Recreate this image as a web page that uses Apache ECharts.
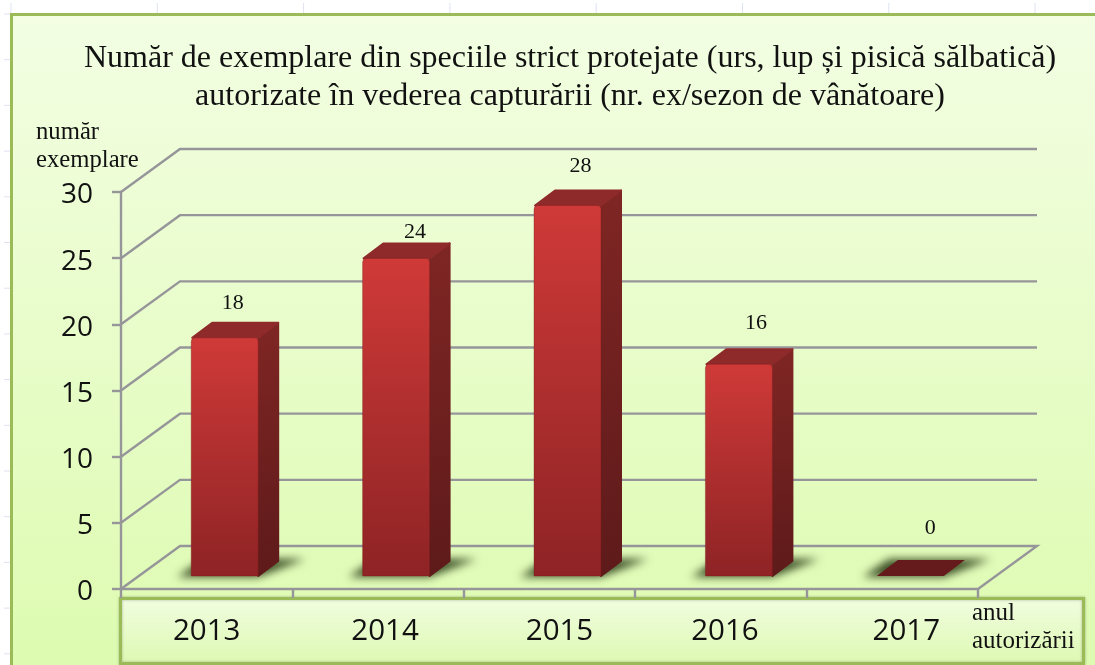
<!DOCTYPE html>
<html><head><meta charset="utf-8">
<style>html,body{margin:0;padding:0;background:#fff}#c{width:1095px;height:665px}</style>
<script src="https://cdn.jsdelivr.net/npm/echarts@6/dist/echarts.min.js"></script>
</head><body><div id="c"></div>
<script>
const categories = ['2013','2014','2015','2016','2017'];
const values = [18,24,28,16,0];
const yTicks = [0,5,10,15,20,25,30];
const titleText = 'Număr de exemplare din speciile strict protejate (urs, lup și pisică sălbatică)\nautorizate în vederea capturării (nr. ex/sezon de vânătoare)';
const yName = 'număr\nexemplare';
const xName = 'anul\nautorizării';

// layout constants of the fake 3D
const wallDx = 59, wallDy = -43;
const barOffX = 18, barOffY = -13, barW = 67, barDx = 21, barDy = -16;
const labelNudge = [[8,-35],[19,-26],[13,-39],[17,-41],[20,-48]];
const xLabelPad = [0,14,20,8,28];

const chart = echarts.init(document.getElementById('c'));
const vg = (a,b)=>({type:'linear',x:0,y:0,x2:0,y2:1,colorStops:[{offset:0,color:a},{offset:1,color:b}]});
const serif = '"Liberation Serif","Times New Roman",serif';
const GREY = '#96969a';

const sheet = [];
for (let y=14;y<665;y+=45.7) sheet.push({type:'line',z:-20,shape:{x1:4,y1:y,x2:11,y2:y},style:{stroke:'#dde3f0',lineWidth:1}});
for (let x=11;x<1095;x+=146.3) sheet.push({type:'line',z:-20,shape:{x1:x,y1:3,x2:x,y2:14},style:{stroke:'#dde3f0',lineWidth:1}});

function wallItem(params, api){
  const cs = params.coordSys, y = api.coord([0,api.value(0)])[1];
  const L = cs.x, R = cs.x+cs.width;
  const pts = [[L,y],[L+wallDx,y+wallDy],[R+wallDx,y+wallDy]];
  if (api.value(0)===0) pts.push([R,y]);
  return {type:'polyline',shape:{points:pts},style:{stroke:GREY,lineWidth:2.4,fill:null}};
}
function barItem(params, api){
  const i = api.value(0), v = api.value(1);
  const top = api.coord([i,v]), base = api.coord([i,0]);
  const x = top[0]+barOffX-barW/2, yT = top[1]+barOffY, yB = base[1]+barOffY;
  const ch = [];
  // ground shadow: only the blurred shadow of an off-canvas polygon is visible
  const OFF = 3000;
  ch.push({type:'polygon',shape:{points:[[x-14-OFF,yB+1],[x+barW-OFF,yB+1],[x+barW+barDx+26-OFF,yB+barDy-1],[x+12-OFF,yB+barDy-1]]},
    style:{fill:'#000',shadowBlur:8,shadowOffsetX:OFF,shadowColor:'rgba(60,80,38,1)'}});
  if (v>0){
    ch.push({type:'polygon',shape:{points:[[x+barW,yT],[x+barW+barDx-1,yT+barDy+1],[x+barW+barDx-1,yB+barDy+1],[x+barW,yB]]},
      style:{fill:vg('#7f2624','#5e1a1a'),stroke:vg('#7f2624','#5e1a1a'),lineWidth:2,lineJoin:'round'}});
    ch.push({type:'polygon',shape:{points:[[x+1,yT],[x+barDx,yT+barDy+1],[x+barW+barDx-1,yT+barDy+1],[x+barW,yT]]},
      style:{fill:'#8e2a2a',stroke:'#8e2a2a',lineWidth:2,lineJoin:'round'}});
    ch.push({type:'rect',shape:{x:x,y:yT,width:barW,height:yB-yT,r:[4,4,0,0]},
      style:{fill:vg('#cf3a38','#8e2325'),stroke:'rgba(120,25,25,0.35)',lineWidth:1}});
  } else {
    ch.push({type:'polygon',shape:{points:[[x,yT],[x+barDx,yT+barDy],[x+barW+barDx,yT+barDy],[x+barW,yT]]},
      style:{fill:'#651a1b'}});
  }
  return {type:'group',children:ch};
}
function labelItem(params, api){
  const i = api.value(0), p = api.coord([i,api.value(1)]);
  const n = labelNudge[i];
  return {type:'text',style:{x:p[0]+barOffX+n[0],y:p[1]+barOffY+n[1],text:String(api.value(1)),
    font:'22px '+serif,fill:'#111',align:'center',verticalAlign:'middle'}};
}

chart.setOption({
  animation:false,
  backgroundColor:'#fff',
  title:{text:titleText,left:565,top:35,textAlign:'center',
    textStyle:{fontFamily:serif,fontSize:32,fontWeight:'normal',color:'#111',lineHeight:38}},
  grid:{left:121,right:117,top:192,bottom:76},
  xAxis:{type:'category',data:categories,
    axisLine:{lineStyle:{color:GREY,width:2.4}},
    axisTick:{show:true,interval:0,length:9,lineStyle:{color:GREY,width:2.4}},
    axisLabel:{interval:0,margin:28,color:'#111',fontFamily:'"Open Sans"',fontSize:29.5,
      formatter:(v,i)=>`{p${i}|${v}}`,
      rich:Object.fromEntries(xLabelPad.map((p,i)=>[`p${i}`,{fontFamily:'"Open Sans"',fontSize:29.5,color:'#111',padding:[0,0,0,p]}]))}},
  yAxis:{type:'value',min:0,max:30,interval:5,
    axisLine:{show:true,lineStyle:{color:GREY,width:2.4}},
    axisTick:{show:true,length:9,lineStyle:{color:GREY,width:2.4}},
    axisLabel:{margin:28,color:'#111',fontFamily:'"Open Sans"',fontSize:28,
      formatter:v=>`{n|${v}}`,
      rich:{n:{fontFamily:'"Open Sans"',fontSize:28,color:'#111',padding:[7,0,0,0]}}},
    splitLine:{show:false}},
  graphic:{elements:[
    ...sheet,
    {type:'rect',z:-10,shape:{x:11.5,y:14.5,width:1110,height:680},
      style:{fill:vg('#f3fee3','#dcfbae'),stroke:'#9bbb59',lineWidth:3}},
    {type:'rect',z:-5,shape:{x:120.5,y:598.5,width:963,height:65},
      style:{fill:vg('#f1fde1','#ddf9b1'),stroke:'#9bbb59',lineWidth:3,shadowBlur:3,shadowColor:'rgba(80,90,60,0.4)'}},
    {type:'text',z:10,style:{x:36,y:119,text:yName,font:'24.7px '+serif,fill:'#111',lineHeight:28}},
    {type:'text',z:10,style:{x:972,y:599,text:xName,font:'25px '+serif,fill:'#111',lineHeight:28}}
  ]},
  series:[
    {type:'custom',name:'grid',z:1,silent:true,coordinateSystem:'cartesian2d',data:yTicks.map(v=>[v]),encode:{y:0},renderItem:wallItem},
    {type:'custom',name:'Număr exemplare',z:3,coordinateSystem:'cartesian2d',data:categories.map((c,i)=>[i,values[i]]),encode:{x:0,y:1},renderItem:barItem},
    {type:'custom',name:'labels',z:4,silent:true,coordinateSystem:'cartesian2d',data:categories.map((c,i)=>[i,values[i]]),encode:{x:0,y:1},renderItem:labelItem}
  ]
});
</script></body></html>
